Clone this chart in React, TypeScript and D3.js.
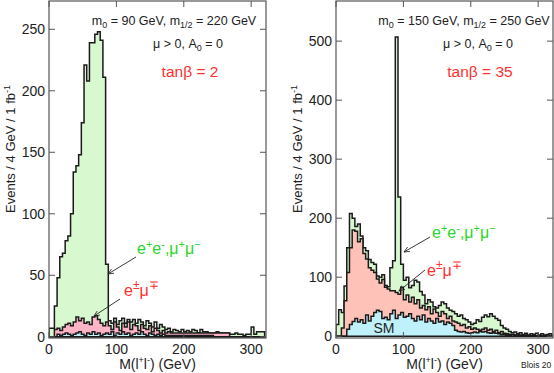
import React from 'react';
import * as d3 from 'd3';

// 4 GeV bins from 0 to 320 GeV
const binWidth = 4;
const xTicks = [0, 100, 200, 300];
const yTicksLeft = [0, 50, 100, 150, 200, 250];
const yTicksRight = [0, 100, 200, 300, 400, 500];

// tanb = 2 : stacked outlines (SM + e+-mu-+ + same flavour), (SM + e+-mu-+), (SM)
const totalLeft = [
  7, 7, 25, 48, 65, 68, 78, 82, 100, 134, 139, 148, 174, 221, 208, 239, 239, 246, 248, 241,
  211, 59, 13, 11, 15, 10, 13, 15, 11, 14, 12, 14, 11, 14, 12, 9, 13, 11, 8, 12,
  7, 10, 8, 6, 7, 4, 6, 5, 4, 6, 4, 5, 4, 6, 5, 3, 6, 4, 4, 3,
  3, 3, 4, 3, 3, 3, 3, 2, 2, 3, 2, 2, 1, 2, 2, 8, 2, 4, 4, 4,
];
const smEmuLeft = [
  0, 0, 6, 7, 5, 8, 10, 11, 9, 12, 16, 13, 15, 11, 12, 10, 16, 17, 14, 11,
  9, 12, 9, 6, 12, 8, 5, 11, 8, 12, 6, 10, 9, 5, 10, 7, 6, 9, 4, 7,
  5, 3, 5, 3, 4, 3, 3, 3, 3, 3, 3, 3, 3, 3, 3, 3, 3, 3, 3, 3,
  3, 3, 3, 3, 3, 3, 3, 0, 0, 0, 0, 0, 0, 0, 0, 0, 0, 0, 0, 0,
];
const smLeft = [
  0, 0, 0, 2, 1, 2, 3, 2, 1, 2, 3, 4, 2, 1, 3, 2, 4, 2, 3, 1,
  2, 3, 2, 4, 1, 3, 2, 4, 2, 3, 1, 2, 3, 2, 4, 2, 1, 3, 2, 1,
  2, 1, 2, 1, 1, 1, 1, 1, 1, 1, 1, 1, 1, 1, 1, 1, 1, 1, 1, 1,
  1, 0, 0, 0, 0, 0, 0, 0, 0, 0, 0, 0, 0, 0, 0, 0, 0, 0, 0, 0,
];

// tanb = 35
const totalRight = [
  20, 45, 40, 85, 150, 208, 200, 186, 190, 170, 150, 145, 130, 125, 122, 102, 100, 104, 86, 84,
  116, 128, 507, 236, 122, 95, 100, 82, 86, 95, 92, 76, 70, 55, 62, 58, 50, 48, 52, 58,
  55, 48, 44, 42, 38, 34, 36, 30, 28, 24, 20, 22, 28, 25, 32, 36, 33, 38, 34, 30,
  27, 18, 14, 12, 8, 6, 7, 4, 6, 3, 5, 2, 4, 3, 5, 2, 4, 2, 3, 4,
];
const smEmuRight = [
  0, 0, 14, 60, 108, 150, 180, 178, 160, 165, 140, 131, 116, 112, 108, 97, 90, 96, 83, 80,
  77, 77, 74, 71, 83, 62, 70, 58, 66, 55, 62, 48, 52, 45, 50, 38, 46, 40, 34, 42,
  38, 30, 34, 26, 24, 22, 18, 20, 14, 16, 12, 14, 12, 10, 12, 14, 10, 12, 8, 10,
  6, 8, 5, 4, 3, 3, 2, 2, 2, 1, 2, 1, 1, 1, 1, 1, 1, 1, 1, 1,
];
const smRight = [
  0, 0, 0, 0, 12, 20, 25, 30, 24, 28, 22, 36, 26, 34, 40, 44, 42, 30, 32, 28,
  38, 44, 30, 36, 40, 32, 34, 38, 30, 26, 34, 28, 36, 24, 30, 26, 22, 30, 24, 26,
  20, 24, 22, 18, 10, 8, 7, 8, 6, 5, 6, 7, 6, 8, 7, 8, 6, 5, 6, 5,
  4, 3, 3, 2, 2, 3, 2, 2, 1, 1, 1, 1, 1, 1, 1, 1, 1, 1, 1, 1,
];

const font = '"Liberation Sans", Arial, Helvetica, sans-serif';
const green = '#2ad62a';
const red = '#ff3030';

function stepPoints(vals: number[]): [number, number][] {
  const pts: [number, number][] = [[0, 0]];
  vals.forEach((v, i) => {
    pts.push([i * binWidth, v]);
    pts.push([(i + 1) * binWidth, v]);
  });
  pts.push([vals.length * binWidth, 0]);
  return pts;
}

function Panel(props: any) {
  const { left, right, top, bottom, yMin, yMax, yTicks, total, smEmu, sm, emuColor, id } = props;
  const x = d3.scaleLinear().domain([0, 322]).range([left, right]);
  const y = d3.scaleLinear().domain([yMin, yMax]).range([bottom, top]);
  const path = d3
    .line<[number, number]>()
    .x((d) => x(d[0]))
    .y((d) => y(d[1]));

  const hists = [
    { vals: total, fill: '#d8f8d0' },
    { vals: smEmu, fill: emuColor },
    { vals: sm, fill: '#bff1fa' },
  ];

  return (
    <g>
      <defs>
        <clipPath id={'clip' + id}>
          <rect x={left} y={top} width={right - left} height={bottom - top} />
        </clipPath>
      </defs>
      <g clipPath={`url(#clip${id})`}>
        {hists.map((h, i) => (
          <path
            key={i}
            d={path(stepPoints(h.vals)) + 'Z'}
            fill={h.fill}
            stroke="#1a1a1a"
            strokeWidth={1.5}
            strokeLinejoin="miter"
          />
        ))}
      </g>
      <rect x={left} y={top} width={right - left} height={bottom - top} fill="none" stroke="#555" strokeWidth={1.2} />
      {xTicks.map((t) => (
        <g key={'x' + t}>
          <line x1={x(t)} x2={x(t)} y1={bottom} y2={bottom - 6} stroke="#555" />
          <line x1={x(t)} x2={x(t)} y1={top} y2={top + 6} stroke="#555" />
          <text x={x(t)} y={354} textAnchor="middle" fontSize={14} fontFamily={font} fill="#222">
            {t}
          </text>
        </g>
      ))}
      {yTicks.map((t: number) => (
        <g key={'y' + t}>
          <line x1={left} x2={left + 6} y1={y(t)} y2={y(t)} stroke="#555" />
          <line x1={right} x2={right - 6} y1={y(t)} y2={y(t)} stroke="#555" />
          <text x={left - 4} y={y(t) + 5} textAnchor="end" fontSize={14} fontFamily={font} fill="#222">
            {t}
          </text>
        </g>
      ))}
      <text x={(left + right) / 2} y={369} textAnchor="middle" fontSize={14} fontFamily={font} fill="#222">
        M(l<tspan dy={-6} fontSize={9}>+</tspan>
        <tspan dy={6}>l</tspan>
        <tspan dy={-6} fontSize={9}>-</tspan>
        <tspan dy={6}>) (GeV)</tspan>
      </text>
      <text
        transform={`translate(${left - 34},149) rotate(-90)`}
        textAnchor="middle"
        fontSize={13}
        fontFamily={font}
        fill="#222"
      >
        Events / 4 GeV / 1 fb<tspan dy={-5} fontSize={9}>-1</tspan>
      </text>
    </g>
  );
}

function SfLabel({ x, y }: { x: number; y: number }) {
  return (
    <text x={x} y={y} fontSize={16} fontFamily={font} fill={green}>
      e<tspan dy={-6} fontSize={11}>+</tspan>
      <tspan dy={6}>e</tspan>
      <tspan dy={-6} fontSize={11}>-</tspan>
      <tspan dy={6}>,μ</tspan>
      <tspan dy={-6} fontSize={11}>+</tspan>
      <tspan dy={6}>μ</tspan>
      <tspan dy={-6} fontSize={11}>−</tspan>
    </text>
  );
}

function OfLabel({ x, y }: { x: number; y: number }) {
  return (
    <text x={x} y={y} fontSize={16} fontFamily={font} fill={red}>
      e<tspan dy={-7} fontSize={12}>±</tspan>
      <tspan dy={7}>μ</tspan>
      <tspan dy={-7} fontSize={12}>∓</tspan>
    </text>
  );
}

function Params({ cx, m0, m12, tanb }: { cx: number; m0: number; m12: number; tanb: number }) {
  return (
    <g fontFamily={font} fill="#222">
      <text x={cx} y={25} textAnchor="middle" fontSize={12.5}>
        m<tspan dy={3} fontSize={9}>0</tspan>
        <tspan dy={-3}> = {m0} GeV, m</tspan>
        <tspan dy={3} fontSize={9}>1/2</tspan>
        <tspan dy={-3}> = {m12} GeV</tspan>
      </text>
      <text x={cx + 14} y={48} textAnchor="middle" fontSize={12.5}>
        μ &gt; 0, A<tspan dy={3} fontSize={9}>0</tspan>
        <tspan dy={-3}> = 0</tspan>
      </text>
      <text x={cx + 16} y={77} textAnchor="middle" fontSize={15.5} fill={red}>
        tanβ = {tanb}
      </text>
    </g>
  );
}

export default function App() {
  return (
    <svg width={554} height={373} style={{ position: 'absolute', left: 0, top: 0, background: '#fff' }}>
      <defs>
        <marker id="arr" viewBox="0 0 10 10" refX={9} refY={5} markerWidth={7} markerHeight={7} orient="auto">
          <path d="M0,1 L9,5 L0,9" fill="none" stroke="#222" strokeWidth={1.2} />
        </marker>
      </defs>
      <Panel
        id="L"
        left={49}
        right={266}
        top={1}
        bottom={338}
        yMin={-1}
        yMax={273}
        yTicks={yTicksLeft}
        total={totalLeft}
        smEmu={smEmuLeft}
        sm={smLeft}
        emuColor="#ffb4c8"
      />
      <Panel
        id="R"
        left={336}
        right={553}
        top={1}
        bottom={338}
        yMin={-3}
        yMax={568}
        yTicks={yTicksRight}
        total={totalRight}
        smEmu={smEmuRight}
        sm={smRight}
        emuColor="#ffc2b8"
      />
      <Params cx={174} m0={90} m12={220} tanb={2} />
      <Params cx={464} m0={150} m12={250} tanb={35} />

      <SfLabel x={137} y={254} />
      <line x1={136} y1={257} x2={108} y2={274} stroke="#222" strokeWidth={0.9} markerEnd="url(#arr)" />
      <OfLabel x={124} y={296} />
      <line x1={120} y1={299} x2={94} y2={316} stroke="#222" strokeWidth={0.9} markerEnd="url(#arr)" />

      <SfLabel x={432} y={238} />
      <line x1={430} y1={237} x2={404} y2={252} stroke="#222" strokeWidth={0.9} markerEnd="url(#arr)" />
      <OfLabel x={427} y={276} />
      <line x1={425} y1={270} x2={399} y2={291} stroke="#222" strokeWidth={0.9} markerEnd="url(#arr)" />

      <text x={384} y={333} textAnchor="middle" fontSize={14} fontFamily={font} fill="#222">
        SM
      </text>
      <text x={521} y={368} fontSize={8.5} fontFamily={font} fill="#222">
        Blois 20
      </text>
    </svg>
  );
}
